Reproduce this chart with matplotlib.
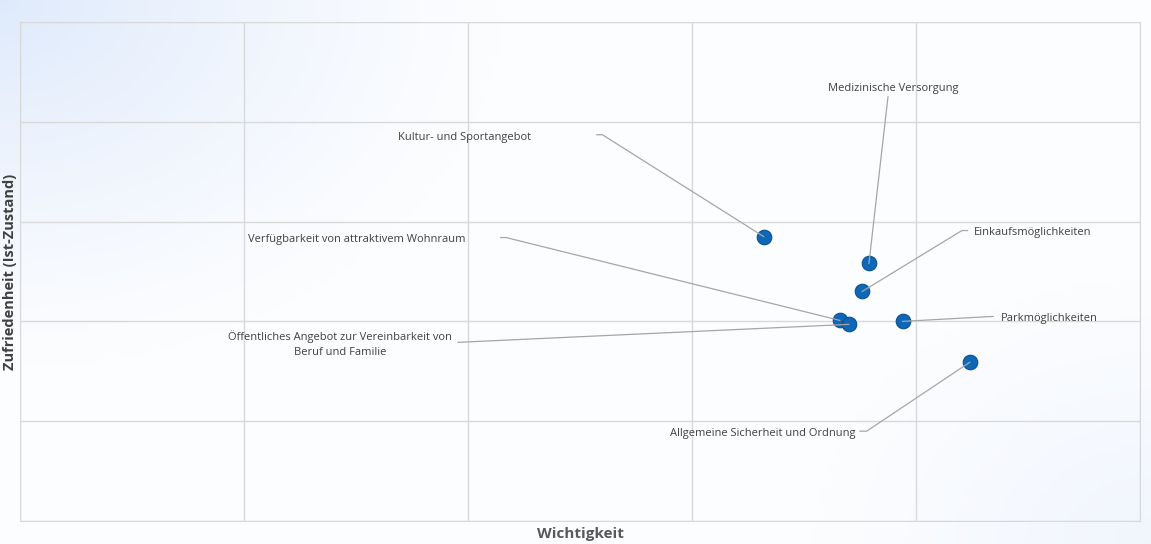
import numpy as np
import matplotlib.pyplot as plt

# data - Wichtigkeit (x) vs Zufriedenheit (y)
labels = ['Kultur- und Sportangebot', 'Medizinische Versorgung', 'Einkaufsmöglichkeiten',
          'Verfügbarkeit von attraktivem Wohnraum',
          'Öffentliches Angebot zur Vereinbarkeit von\nBeruf und Familie',
          'Parkmöglichkeiten', 'Allgemeine Sicherheit und Ordnung']
wichtigkeit = [3.32, 3.79, 3.76, 3.66, 3.70, 3.94, 4.24]
zufriedenheit = [2.85, 2.58, 2.30, 2.01, 1.97, 2.00, 1.59]

# label layout (text pos, alignment, elbow of leader line, stub end x)
text_pos = [(2.28, 3.84), (3.90, 4.33), (4.26, 2.89), (1.99, 2.82), (1.93, 1.775), (4.38, 2.025), (3.73, 0.875)]
text_ha = ['right', 'center', 'left', 'right', 'right', 'left', 'right']
elbow = [(2.60, 3.87), (3.875, 4.25), (4.205, 2.91), (2.17, 2.84), (1.955, 1.79), (4.345, 2.05), (3.78, 0.90)]
stub_x = [2.575, None, 4.23, 2.145, None, None, 3.75]

plt.rcParams['font.family'] = ['Open Sans', 'DejaVu Sans']

fig = plt.figure(figsize=(11.51, 5.44), dpi=100)

# background gradient
bg = fig.add_axes([0, 0, 1, 1], zorder=-10)
gx, gy = np.meshgrid(np.linspace(0, 1, 300), np.linspace(0, 1, 150))
d1 = np.clip(1 - np.sqrt((gx / 0.45) ** 2 + (gy / 0.7) ** 2), 0, 1) ** 1.3
d2 = np.clip(1 - np.sqrt(((1 - gx) / 0.3) ** 2 + ((1 - gy) / 0.5) ** 2), 0, 1)
w = np.clip(d1 * 0.9 + d2 * 0.35, 0, 1)[..., None]
top = np.array([0.86, 0.91, 0.985])
white = np.array([0.99, 0.993, 1.0])
img = white * (1 - w) + top * w
bg.imshow(img, aspect='auto', extent=[0, 1, 0, 1], origin='upper')
bg.axis('off')

ax = fig.add_axes([0.0174, 0.0423, 0.973, 0.9173])
ax.patch.set_alpha(0)
ax.set_xlim(0, 5)
ax.set_ylim(0, 5)
ax.set_xticks(range(6))
ax.set_yticks(range(6))
ax.tick_params(length=0, labelbottom=False, labelleft=False)
ax.grid(True, color='#d9d9d9', lw=1)
for s in ax.spines.values():
    s.set_color('#d9d9d9')

ax.scatter(wichtigkeit, zufriedenheit, s=110, color='#0f67b8', edgecolor='#0b4f8e',
           linewidth=0.8, zorder=3)

for i, lab in enumerate(labels):
    ex, ey = elbow[i]
    xs = [wichtigkeit[i], ex]
    ys = [zufriedenheit[i], ey]
    if stub_x[i] is not None:
        xs.append(stub_x[i])
        ys.append(ey)
    ax.plot(xs, ys, color='#a6a6a6', lw=0.9, zorder=4)
    tx, ty = text_pos[i]
    ax.text(tx, ty, lab, ha=text_ha[i], va='center', fontsize=8, color='#404040',
            multialignment='center', linespacing=1.5)

fig.text(0.504, 0.018, 'Wichtigkeit', ha='center', va='center', fontsize=11,
         fontweight='bold', color='#595959')
fig.text(0.009, 0.5, 'Zufriedenheit (Ist-Zustand)', ha='center', va='center',
         rotation=90, fontsize=10.5, fontweight='bold', color='#404040')

fig.savefig('out.png', dpi=100)
